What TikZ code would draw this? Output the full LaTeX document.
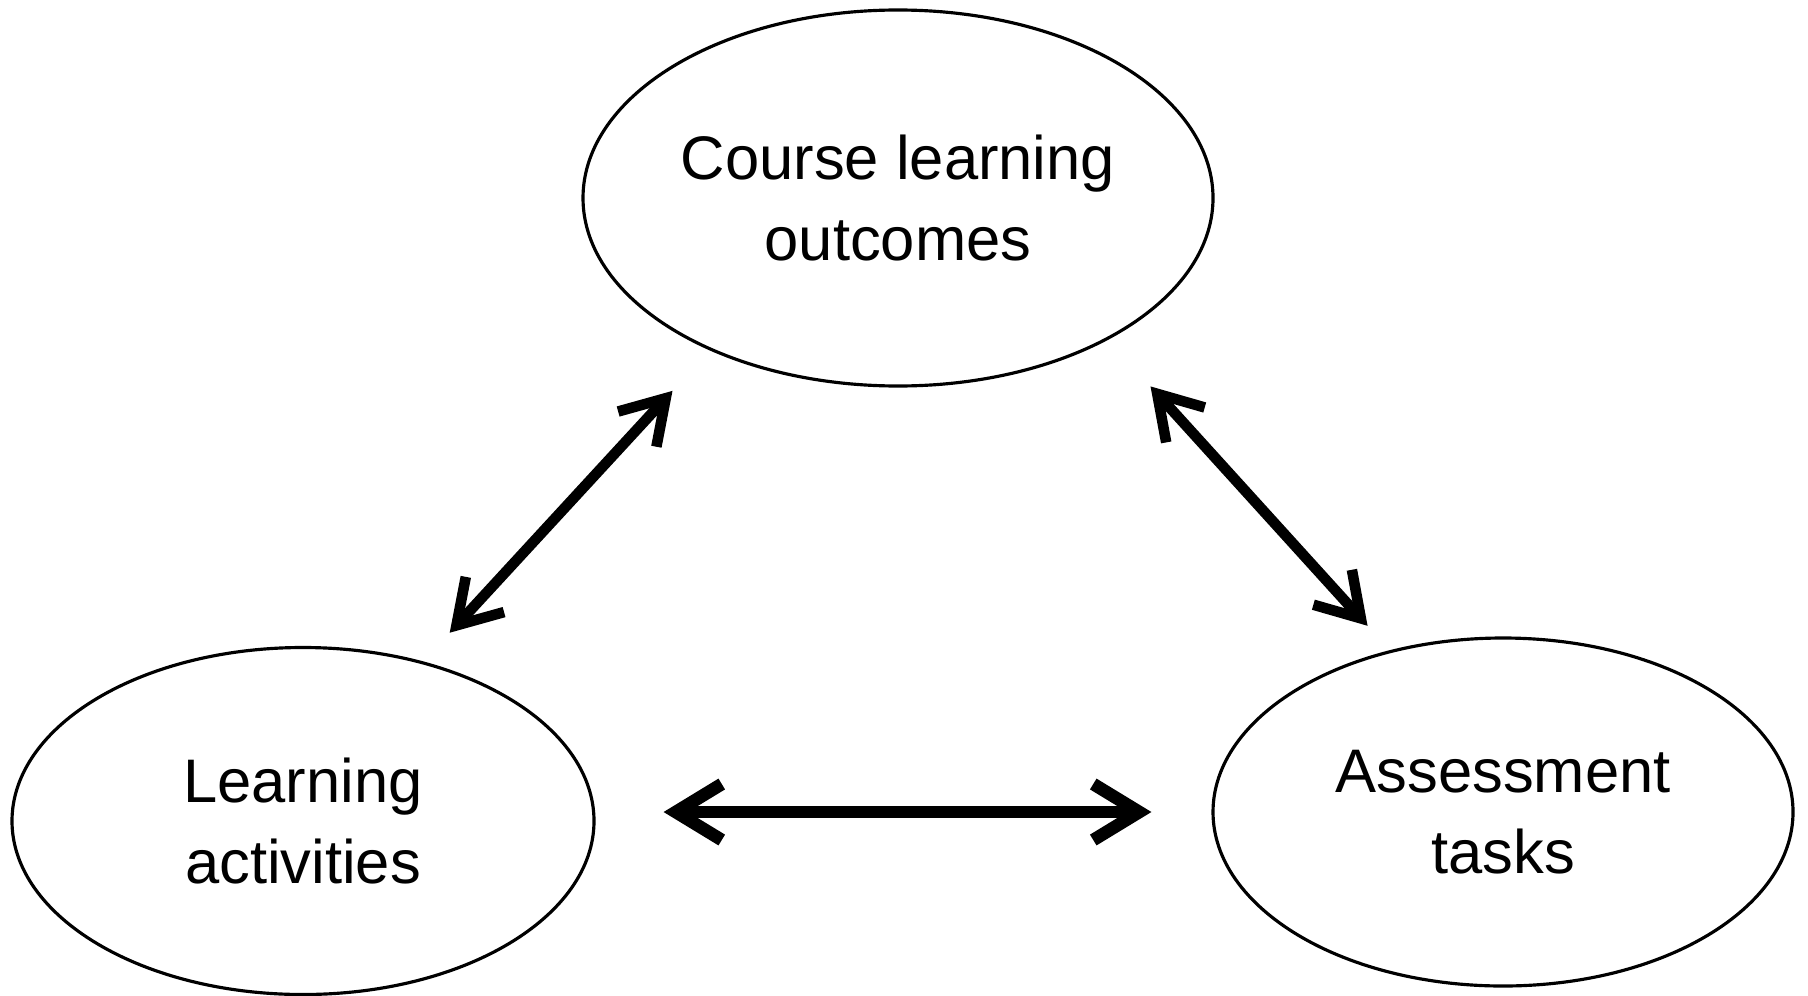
\documentclass[tikz,border=0pt]{standalone}
\usepackage{fontspec}
\setmainfont{Liberation Sans}
\usetikzlibrary{shapes.geometric,arrows.meta}

\begin{document}
\begin{tikzpicture}[
    goal/.style={ellipse, draw, line width=0.9pt, align=center, font=\fontsize{17.5}{23}\selectfont, inner sep=0pt},
    link/.style={arrows={Straight Barb[length=0.42cm, width=0.52cm]-Straight Barb[length=0.42cm, width=0.52cm]}, line width=3pt},
    hlink/.style={arrows={Straight Barb[length=0.46cm, width=0.56cm]-Straight Barb[length=0.46cm, width=0.56cm]}, line width=3.6pt}
]
\useasboundingbox (0,0) rectangle (18.08,9.95);

% Top: outcomes
\node[goal, minimum width=6.3cm, minimum height=3.76cm] (outcomes) at (8.98,7.97) {Course learning\\outcomes};

% Bottom: activities and tasks
\node[goal, minimum width=5.82cm, minimum height=3.47cm] (activities) at (3.03,1.74) {Learning\\activities};
\node[goal, minimum width=5.8cm, minimum height=3.48cm] (tasks) at (15.03,1.83) {Assessment\\tasks};

% Arrows
\draw[link, shorten <=0.39cm, shorten >=0.55cm] (activities.53) -- (outcomes.219);
\draw[link, shorten <=0.63cm, shorten >=0.33cm] (outcomes.-34) -- (tasks.125);
\draw[hlink, shorten <=0.68cm, shorten >=0.6cm] (tasks.west -| activities.east) -- (tasks.west);

\end{tikzpicture}
\end{document}
